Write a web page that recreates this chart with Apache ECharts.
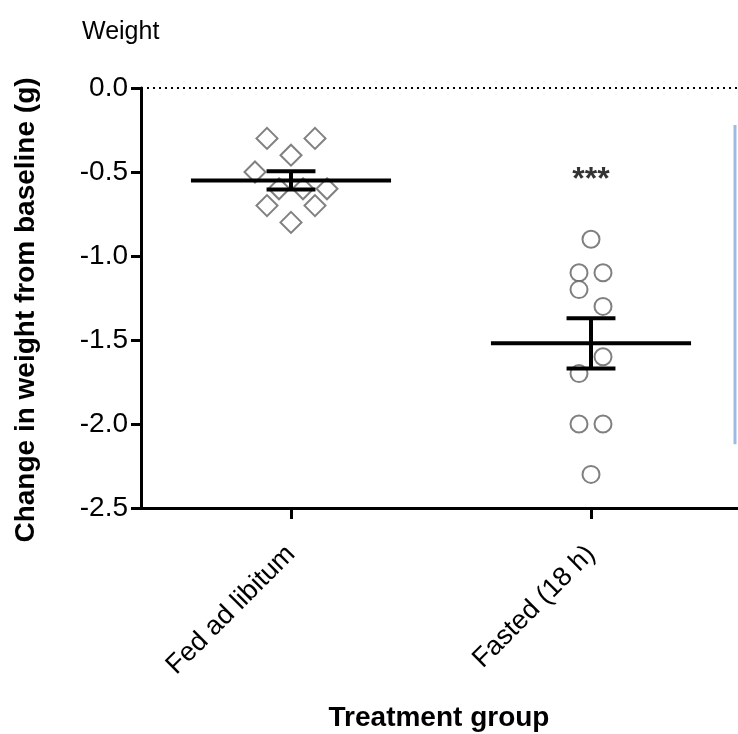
<!DOCTYPE html>
<html>
<head>
<meta charset="utf-8">
<script src="https://cdn.jsdelivr.net/npm/echarts@6/dist/echarts.min.js"></script>
<style>html,body{margin:0;padding:0;background:#fff;}#c{width:738px;height:734px;}</style>
</head>
<body>
<div id="c"></div>
<script>
// ---- data ----
const categories = ['Fed ad libitum', 'Fasted (18 h)'];
const categoryPos = [1, 3];
const fedValues = [-0.3, -0.3, -0.4, -0.5, -0.6, -0.6, -0.6, -0.7, -0.7, -0.8];
const fedJitter = [-0.16, 0.16, 0, -0.24, -0.08, 0.08, 0.24, -0.16, 0.16, 0];
const fastedValues = [-0.9, -1.1, -1.1, -1.2, -1.3, -1.6, -1.7, -2.0, -2.0, -2.3];
const fastedJitter = [0, -0.08, 0.08, -0.08, 0.08, 0.08, -0.08, -0.08, 0.08, 0];
const yTicks = [0, -0.5, -1.0, -1.5, -2.0, -2.5];
const significance = '***';
const chartTitle = 'Weight';
const xTitle = 'Treatment group';
const yTitle = 'Change in weight from baseline (g)';

function meanSem(a) {
  const n = a.length, m = a.reduce((s, v) => s + v, 0) / n;
  const sd = Math.sqrt(a.reduce((s, v) => s + (v - m) * (v - m), 0) / (n - 1));
  return [m, sd / Math.sqrt(n)];
}
const groups = [fedValues, fastedValues];
const summary = groups.map((g, i) => {
  const [m, se] = meanSem(g);
  return [categoryPos[i], m, m - se, m + se];
});

const FONT = 'Liberation Sans, Arial, sans-serif';
const chart = echarts.init(document.getElementById('c'));
chart.setOption({
  animation: false,
  backgroundColor: '#ffffff',
  graphic: [
    { type: 'text', left: 82, top: 20,
      style: { text: chartTitle, font: 'normal 25px ' + FONT, fill: '#000' } },
    { type: 'text', x: 26, y: 310, rotation: Math.PI / 2,
      style: { text: yTitle, font: 'bold 28px ' + FONT, fill: '#000', textAlign: 'center', textVerticalAlign: 'middle' } },
    { type: 'text', x: 439, y: 718,
      style: { text: xTitle, font: 'bold 28px ' + FONT, fill: '#000', textAlign: 'center', textVerticalAlign: 'middle' } }
  ],
  grid: { left: 141, right: 0, top: 88, bottom: 226 },
  xAxis: {
    type: 'value', min: 0, max: 3.98,
    splitLine: { show: false },
    axisLine: { onZero: false, lineStyle: { color: '#000', width: 3 } },
    axisTick: { show: true, customValues: categoryPos, length: 11, inside: false, lineStyle: { color: '#000', width: 3 } },
    axisLabel: {
      customValues: categoryPos, rotate: 45, margin: 42,
      fontFamily: FONT, fontSize: 27, color: '#000',
      formatter: v => categories[categoryPos.indexOf(v)] || ''
    }
  },
  yAxis: {
    type: 'value', min: -2.5, max: 0, interval: 0.5,
    splitLine: { show: false },
    axisLine: { lineStyle: { color: '#000', width: 3 } },
    axisTick: { show: true, length: 10, lineStyle: { color: '#000', width: 3 } },
    axisLabel: {
      fontFamily: FONT, fontSize: 28, color: '#000', margin: 13,
      customValues: yTicks,
      formatter: v => v.toFixed(1)
    }
  },
  series: [
    {
      type: 'scatter', name: categories[0],
      symbol: 'diamond', symbolSize: [21, 21],
      itemStyle: { color: '#fff', borderColor: '#606060', borderWidth: 2 },
      data: fedValues.map((v, i) => [categoryPos[0] + fedJitter[i], v]),
      markLine: {
        silent: true, symbol: 'none', label: { show: false },
        lineStyle: { color: '#000', type: [2, 4], width: 2 },
        data: [{ yAxis: 0 }]
      },
      z: 2
    },
    {
      type: 'scatter', name: categories[1],
      symbol: 'circle', symbolSize: 17,
      itemStyle: { color: '#fff', borderColor: '#606060', borderWidth: 2 },
      data: fastedValues.map((v, i) => [categoryPos[1] + fastedJitter[i], v]),
      z: 2
    },
    {
      type: 'custom',
      renderItem: function (params, api) {
        const x = api.value(0), m = api.value(1), lo = api.value(2), hi = api.value(3);
        const pl = api.coord([x - 0.667, m]), pr = api.coord([x + 0.667, m]);
        const pLo = api.coord([x, lo]), pHi = api.coord([x, hi]);
        const cw = api.size([0.163, 0])[0];
        const st = { stroke: '#000', lineWidth: 4 };
        return {
          type: 'group', children: [
            { type: 'line', shape: { x1: pl[0], y1: pl[1], x2: pr[0], y2: pr[1] }, style: st },
            { type: 'line', shape: { x1: pLo[0], y1: pLo[1], x2: pHi[0], y2: pHi[1] }, style: st },
            { type: 'line', shape: { x1: pLo[0] - cw, y1: pLo[1], x2: pLo[0] + cw, y2: pLo[1] }, style: st },
            { type: 'line', shape: { x1: pHi[0] - cw, y1: pHi[1], x2: pHi[0] + cw, y2: pHi[1] }, style: st }
          ]
        };
      },
      data: summary, z: 5
    },
    {
      type: 'scatter', symbolSize: 0,
      label: { show: true, position: 'inside', formatter: significance, fontFamily: FONT, fontSize: 32, fontWeight: 'bold', color: '#000' },
      data: [[categoryPos[1], -0.55]]
    },
    {
      type: 'line', symbol: 'none', silent: true,
      lineStyle: { color: '#9dbbe2', width: 3 },
      data: [[3.96, -0.22], [3.96, -2.12]]
    }
  ]
});
</script>
</body>
</html>
